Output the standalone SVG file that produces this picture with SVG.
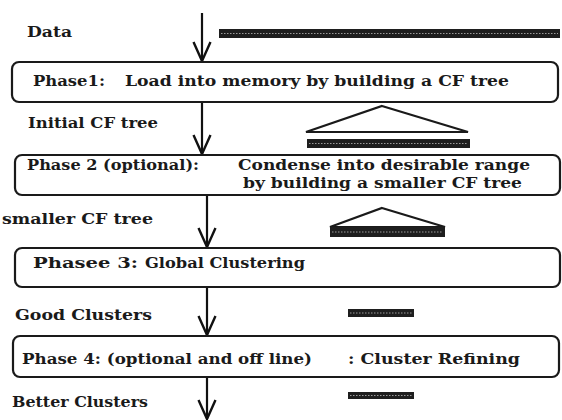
<svg xmlns="http://www.w3.org/2000/svg" width="562" height="420" viewBox="0 0 562 420">
<style>
text{font-family:"DejaVu Serif","Liberation Serif",serif;font-weight:bold;font-size:15px;fill:#1a1a1a}
.sm{font-size:14px}
.box{fill:#fff;stroke:#1a1a1a;stroke-width:2.2}
.bar{fill:#1e1e1e}
.dots{stroke:#9a9a9a;stroke-width:1.2;stroke-dasharray:1.5 1.5}
.tri{fill:#fff;stroke:#1a1a1a;stroke-width:2.2;stroke-linejoin:miter}
.conn{stroke:#111;stroke-width:2.2;fill:none}
</style>
<defs>
<marker id="ah" viewBox="0 0 22 20" refX="20" refY="10" markerWidth="22" markerHeight="20" markerUnits="userSpaceOnUse" orient="auto">
<path d="M1,1.5 L20,10 L1,18.5" fill="none" stroke="#111" stroke-width="2.4"/>
</marker>
</defs>
<rect width="562" height="420" fill="#fff"/>

<g id="connectors">
<line class="conn" x1="202" y1="13" x2="202" y2="61" marker-end="url(#ah)"/>
<line class="conn" x1="202" y1="102" x2="202" y2="154" marker-end="url(#ah)"/>
<line class="conn" x1="207" y1="195" x2="207" y2="247" marker-end="url(#ah)"/>
<line class="conn" x1="207" y1="287" x2="207" y2="335" marker-end="url(#ah)"/>
<line class="conn" x1="207" y1="377" x2="207" y2="419" marker-end="url(#ah)"/>
</g>

<g id="data">
<text x="27" y="37" textLength="45" lengthAdjust="spacingAndGlyphs">Data</text>
<rect class="bar" x="219" y="29" width="341" height="9"/>
<line class="dots" x1="221" y1="33.5" x2="558" y2="33.5"/>
</g>

<g id="phase1">
<rect class="box" x="12" y="62" width="546" height="40" rx="7"/>
<text x="33" y="86" textLength="72" lengthAdjust="spacingAndGlyphs">Phase1:</text>
<text x="125" y="86" textLength="384" lengthAdjust="spacingAndGlyphs">Load into memory by building a CF tree</text>
</g>

<g id="initial-cf-tree">
<text x="28" y="128" textLength="130" lengthAdjust="spacingAndGlyphs">Initial CF tree</text>
<polygon class="tri" points="382,106 468,132 306,132"/>
<rect class="bar" x="307" y="139" width="163" height="9"/>
<line class="dots" x1="309" y1="143.5" x2="468" y2="143.5"/>
</g>

<g id="phase2">
<rect class="box" x="15" y="155" width="545" height="40" rx="7"/>
<text x="27" y="170" textLength="172" lengthAdjust="spacingAndGlyphs">Phase 2 (optional):</text>
<text class="sm" x="238" y="170" textLength="292" lengthAdjust="spacingAndGlyphs">Condense into desirable range</text>
<text class="sm" x="243" y="188" textLength="279" lengthAdjust="spacingAndGlyphs">by building a smaller CF tree</text>
</g>

<g id="smaller-cf-tree">
<text x="2" y="224" textLength="151" lengthAdjust="spacingAndGlyphs">smaller CF tree</text>
<polygon class="tri" points="382,208 445,227 330,227" stroke-width="2.6"/>
<rect class="bar" x="330" y="227" width="115" height="10"/>
<line class="dots" x1="332" y1="232" x2="443" y2="232"/>
</g>

<g id="phase3">
<rect class="box" x="15" y="248" width="545" height="39" rx="7"/>
<text x="33" y="268" textLength="105" lengthAdjust="spacingAndGlyphs">Phasee 3:</text>
<text x="145" y="268" textLength="160" lengthAdjust="spacingAndGlyphs">Global Clustering</text>
</g>

<g id="good-clusters">
<text x="15" y="320" textLength="137" lengthAdjust="spacingAndGlyphs">Good Clusters</text>
<rect class="bar" x="348" y="309" width="66" height="8"/>
<line class="dots" x1="350" y1="313" x2="412" y2="313"/>
</g>

<g id="phase4">
<rect class="box" x="13" y="336" width="546" height="41" rx="7"/>
<text x="22" y="364" textLength="290" lengthAdjust="spacingAndGlyphs">Phase 4: (optional and off line)</text>
<text x="348" y="364" textLength="172" lengthAdjust="spacingAndGlyphs">: Cluster Refining</text>
</g>

<g id="better-clusters">
<text x="12" y="407" textLength="136" lengthAdjust="spacingAndGlyphs">Better Clusters</text>
<rect class="bar" x="348" y="392" width="66" height="7"/>
<line class="dots" x1="350" y1="395.5" x2="412" y2="395.5"/>
</g>
</svg>
